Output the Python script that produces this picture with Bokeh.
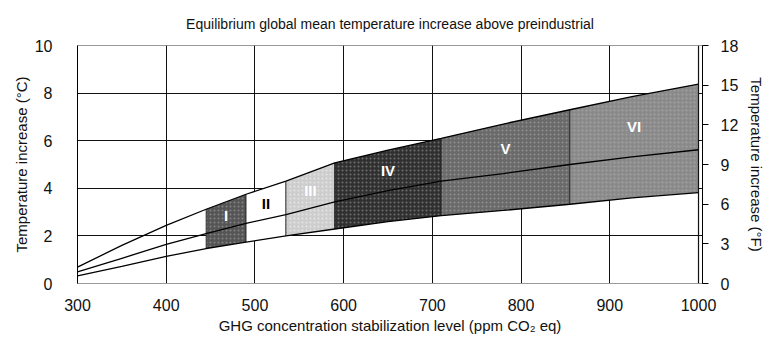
import numpy as np
from bokeh.plotting import figure
from bokeh.models import LinearAxis, Range1d, FixedTicker, Span
from bokeh.core.properties import value
from bokeh.embed import file_html
from bokeh.resources import INLINE

# concentration (ppm CO2 eq) and temperature curves (deg C)
conc = [300, 350, 400, 445, 490, 535, 590, 650, 710, 780, 855, 925, 1000]
upper = [0.69, 1.6, 2.44, 3.12, 3.75, 4.3, 5.07, 5.6, 6.1, 6.7, 7.3, 7.85, 8.38]
best = [0.49, 1.06, 1.64, 2.1, 2.53, 2.89, 3.43, 3.9, 4.3, 4.62, 5.0, 5.32, 5.62]
lower = [0.32, 0.72, 1.14, 1.47, 1.74, 2.0, 2.29, 2.6, 2.85, 3.07, 3.33, 3.6, 3.82]

# stabilization categories
cat_names = ["I", "II", "III", "IV", "V", "VI"]
cat_start = [445, 490, 535, 590, 710, 855]
cat_end = [490, 535, 590, 710, 855, 1000]
cat_fill = ["#555555", "#ffffff", "#cdcdcd", "#303030", "#6a6a6a", "#8a8a8a"]
cat_text = ["#ffffff", "#000000", "#ffffff", "#ffffff", "#ffffff", "#ffffff"]

x_ticks = [300, 400, 500, 600, 700, 800, 900, 1000]
yc_ticks = [0, 2, 4, 6, 8, 10]
yf_ticks = [0, 3, 6, 9, 12, 15, 18]

FONT = "Liberation Sans"

p = figure(width=768, height=336, output_backend="svg", toolbar_location=None,
           x_range=Range1d(300, 1004.5), y_range=Range1d(0, 10),
           min_border_left=77, min_border_right=61, min_border_top=45,
           min_border_bottom=51)
p.background_fill_color = "white"
p.border_fill_color = "white"
p.outline_line_color = "#9a9a9a"
p.outline_line_width = 1

p.title.text = "Equilibrium global mean temperature increase above preindustrial"
p.title.align = "center"
p.title.vertical_align = "top"
p.title.text_font = FONT
p.title.text_font_style = "normal"
p.title.text_font_size = "14px"
p.title.text_color = "#111111"
p.title.offset = 0
p.title.standoff = 24

# grids
p.xgrid.ticker = FixedTicker(ticks=[400, 500, 600, 700, 800, 900])
p.ygrid.ticker = FixedTicker(ticks=[2, 4, 6, 8])
p.xgrid.grid_line_color = "#111111"
p.ygrid.grid_line_color = "#111111"
p.xgrid.grid_line_width = 1
p.ygrid.grid_line_width = 1
p.add_layout(Span(location=1000, dimension="height", line_color="#111111", line_width=1.2))

# shaded categories
conc_a = np.array(conc, dtype=float)
for name, s, e, c in zip(cat_names, cat_start, cat_end, cat_fill):
    xs = [v for v in conc if s <= v <= e]
    lo = np.interp(xs, conc_a, lower)
    up = np.interp(xs, conc_a, upper)
    p.varea(x=xs, y1=lo, y2=up, fill_color=c,
            hatch_pattern="dot" if c != "#ffffff" else None,
            hatch_color="#bbbbbb" if c != "#cdcdcd" else "#ffffff",
            hatch_alpha=0.45, hatch_scale=4, hatch_weight=1)
    for xb in (s, e):
        p.line(x=[xb, xb], y=[np.interp(xb, conc_a, lower), np.interp(xb, conc_a, upper)],
               line_color="#222222", line_width=0.8)

# curves
for ys in (upper, best, lower):
    p.line(x=conc, y=ys, line_color="#000000", line_width=1.3)

# category labels
lab_x = [(s + e) / 2 for s, e in zip(cat_start, cat_end)]
lab_y = [(np.interp(x, conc_a, upper) + np.interp(x, conc_a, best)) / 2 for x in lab_x]
p.text(x=lab_x, y=lab_y, text=cat_names, text_color=cat_text,
       text_font=value(FONT), text_font_size="15px", text_font_style="bold",
       text_align="center", text_baseline="middle")

# axes
xa = p.xaxis[0]
xa.ticker = FixedTicker(ticks=x_ticks)
xa.axis_label = "GHG concentration stabilization level (ppm CO\u2082 eq)"
xa.axis_line_color = "#9a9a9a"
xa.major_tick_line_color = None
xa.minor_tick_line_color = None
xa.major_label_standoff = 9

ya = p.yaxis[0]
ya.ticker = FixedTicker(ticks=yc_ticks)
ya.axis_label = "Temperature increase (\u00b0C)"
ya.axis_line_color = "#000000"
ya.major_tick_line_color = None
ya.minor_tick_line_color = None
ya.major_label_standoff = 19

p.extra_y_ranges = {"f": Range1d(0, 18)}
fa = LinearAxis(y_range_name="f", ticker=FixedTicker(ticks=yf_ticks),
                axis_label="Temperature increase (\u00b0F)")
fa.axis_line_color = "#000000"
fa.major_tick_line_color = "#000000"
fa.major_tick_out = 6
fa.major_tick_in = 0
fa.minor_tick_line_color = None
fa.major_label_standoff = 12
p.add_layout(fa, "right")

for ax in (xa, ya, fa):
    ax.major_label_text_font = FONT
    ax.major_label_text_font_size = "16px"
    ax.major_label_text_color = "#111111"
    ax.axis_label_text_font = FONT
    ax.axis_label_text_font_size = "15px"
    ax.axis_label_text_font_style = "normal"
    ax.axis_label_text_color = "#111111"
ya.axis_label_standoff = 2
xa.axis_label_standoff = 3
fa.axis_label_standoff = 7

open("out.html", "w").write(file_html(p, INLINE))
